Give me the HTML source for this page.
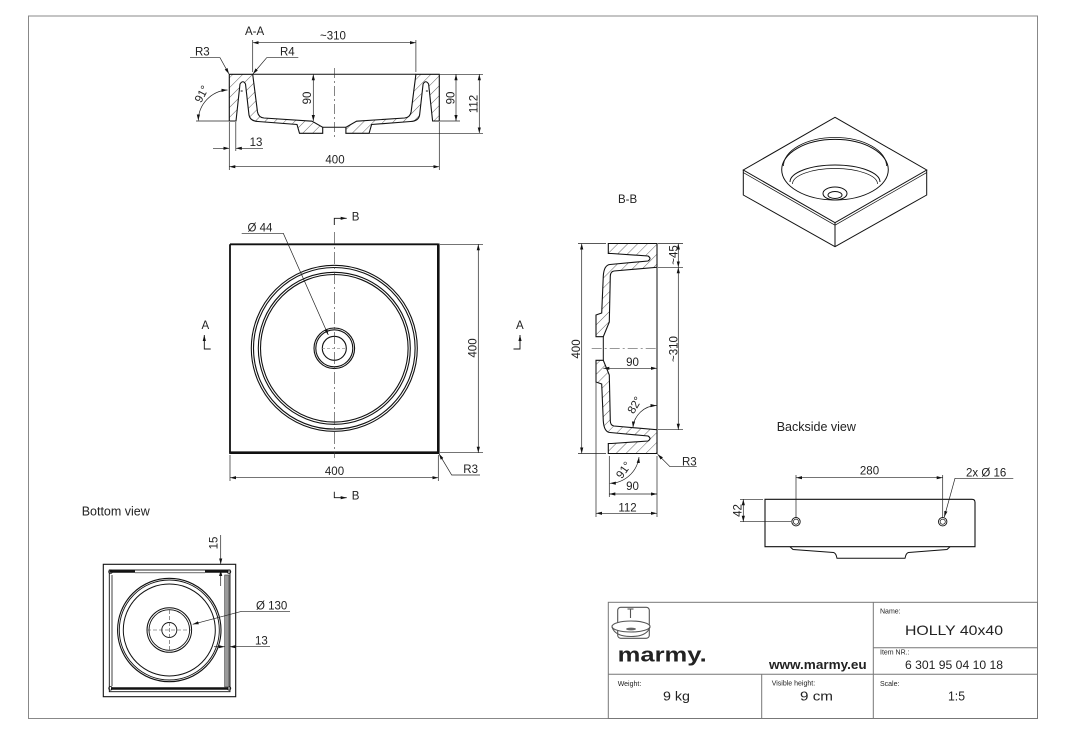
<!DOCTYPE html>
<html><head><meta charset="utf-8"><style>
html,body{margin:0;padding:0;background:#fff;}
svg{display:block;}
text{font-family:"Liberation Sans",sans-serif;fill:#222;}
</style></head><body>
<svg width="1073" height="744" viewBox="0 0 1073 744" xmlns="http://www.w3.org/2000/svg">
<defs>
<marker id="a" markerUnits="userSpaceOnUse" markerWidth="7" markerHeight="4" refX="6" refY="1.6" orient="auto-start-reverse"><path d="M0,0 L6,1.6 L0,3.2 z" fill="#111"/></marker>
<pattern id="h" patternUnits="userSpaceOnUse" width="7" height="7" patternTransform="rotate(45)"><line x1="0" y1="0" x2="0" y2="7" stroke="#222" stroke-width="0.7"/></pattern>
</defs>
<rect x="0" y="0" width="1073" height="744" fill="#fff"/>
<rect x="28.5" y="16" width="1009" height="702.5" fill="none" stroke="#888" stroke-width="1"/>

<!-- ========== A-A section ========== -->
<g stroke="#111" stroke-width="1.1" fill="url(#h)">
<path d="M229.3,74.3 L252.7,74.3 L257.5,112 Q258.5,117.5 264,118 L312,121.2 L322.7,127.3 L322.7,133.3 L299.5,133.3 L297,124.5 L258,121.5 Q250,121 249,115 L245.5,84 Q243,79.5 240,84 L236,121 L229.3,121 Z"/>
<path d="M439.3,74.3 L415.9,74.3 L411.1,112 Q410.1,117.5 404.6,118 L356.6,121.2 L345.9,127.3 L345.9,133.3 L369.1,133.3 L371.6,124.5 L410.6,121.5 Q418.6,121 419.6,115 L423.1,84 Q425.6,79.5 428.6,84 L432.6,121 L439.3,121 Z"/>
</g>
<g stroke="#111" stroke-width="1" fill="none">
<line x1="252.7" y1="74.3" x2="415.9" y2="74.3"/>
<line x1="322.7" y1="127.3" x2="345.9" y2="127.3"/>
<line x1="240.7" y1="91" x2="242.7" y2="91"/>
<line x1="425.9" y1="91" x2="427.9" y2="91"/>
</g>
<line x1="334.3" y1="68" x2="334.3" y2="139" stroke="#333" stroke-width="0.6" stroke-dasharray="10 3 2 3"/>
<g stroke="#222" stroke-width="0.7" fill="none">
<line x1="252.7" y1="40" x2="252.7" y2="72"/>
<line x1="415.9" y1="40" x2="415.9" y2="72"/>
<line x1="252.7" y1="42.7" x2="415.9" y2="42.7" marker-start="url(#a)" marker-end="url(#a)"/>
<polyline points="190,57.7 220,57.7 229,74" marker-end="url(#a)"/>
<polyline points="298.3,57.7 266.7,57.7 252.9,74" marker-end="url(#a)"/>
<path d="M227.5,90 A31,31 0 0 0 198.3,120.5" marker-start="url(#a)" marker-end="url(#a)"/>
<line x1="196" y1="121" x2="229" y2="121"/>
<line x1="229.3" y1="122" x2="229.3" y2="170"/>
<line x1="235.8" y1="122" x2="235.8" y2="151"/>
<line x1="213" y1="148.3" x2="229.3" y2="148.3" marker-end="url(#a)"/>
<line x1="263" y1="148.3" x2="235.8" y2="148.3" marker-end="url(#a)"/>
<line x1="439.3" y1="122" x2="439.3" y2="170"/>
<line x1="229.3" y1="166.7" x2="439.3" y2="166.7" marker-start="url(#a)" marker-end="url(#a)"/>
<line x1="440" y1="74.3" x2="483" y2="74.3"/>
<line x1="440" y1="121" x2="460" y2="121"/>
<line x1="369" y1="133.3" x2="483" y2="133.3"/>
<line x1="456" y1="74.3" x2="456" y2="121" marker-start="url(#a)" marker-end="url(#a)"/>
<line x1="479.3" y1="74.3" x2="479.3" y2="133.3" marker-start="url(#a)" marker-end="url(#a)"/>
<line x1="313.3" y1="74.3" x2="313.3" y2="121" marker-start="url(#a)" marker-end="url(#a)"/>
</g>
<g font-size="11.5">
<text x="245" y="35">A-A</text>
<text x="333" y="39.5" text-anchor="middle">~310</text>
<text x="195" y="55.5">R3</text>
<text x="280" y="55.5">R4</text>
<text x="256" y="146" text-anchor="middle">13</text>
<text x="335" y="163.5" text-anchor="middle">400</text>
<text transform="translate(201.5,94) rotate(-62)" text-anchor="middle" y="4">91°</text>
<text transform="translate(307,98) rotate(-90)" text-anchor="middle" y="4">90</text>
<text transform="translate(450.5,98) rotate(-90)" text-anchor="middle" y="4">90</text>
<text transform="translate(473.5,104) rotate(-90)" text-anchor="middle" y="4">112</text>
</g>

<!-- ========== Plan view ========== -->
<g stroke="#111" fill="none">
<line x1="230" y1="244.3" x2="438.3" y2="244.3" stroke-width="1.8"/>
<line x1="230" y1="244.3" x2="230" y2="452.7" stroke-width="1.8"/>
<line x1="438.3" y1="243.5" x2="438.3" y2="453.5" stroke-width="2.6"/>
<line x1="229.2" y1="452.7" x2="439.5" y2="452.7" stroke-width="2.6"/>
</g>
<g fill="none" stroke="#111" stroke-width="1.1">
<circle cx="334.3" cy="348.3" r="83"/>
<circle cx="334.3" cy="348.3" r="80.8"/>
<circle cx="334.3" cy="348.3" r="76"/>
<circle cx="334.3" cy="348.3" r="73.8"/>
<circle cx="334.3" cy="348.3" r="20.3"/>
<circle cx="334.3" cy="348.3" r="18.5"/>
<circle cx="334.3" cy="348.3" r="12"/>
</g>
<line x1="334.3" y1="232" x2="334.3" y2="458" stroke="#333" stroke-width="0.6" stroke-dasharray="12 3 2 3"/>
<line x1="322" y1="348.3" x2="347" y2="348.3" stroke="#888" stroke-width="0.6" stroke-dasharray="3 2"/>
<g stroke="#111" stroke-width="0.9" fill="none">
<polyline points="334.3,225 334.3,218.3 346.7,218.3" marker-end="url(#a)"/>
<polyline points="334.3,491.7 334.3,497.7 346.7,497.7" marker-end="url(#a)"/>
<polyline points="210.7,349 204.3,349 204.3,335" marker-end="url(#a)"/>
<polyline points="513.5,349 520,349 520,335" marker-end="url(#a)"/>
</g>
<g stroke="#222" stroke-width="0.7" fill="none">
<polyline points="241.7,233.3 283.3,233.3 328.3,335" marker-end="url(#a)"/>
<line x1="230" y1="455" x2="230" y2="481"/>
<line x1="438.3" y1="455" x2="438.3" y2="481"/>
<line x1="230" y1="477.7" x2="438.3" y2="477.7" marker-start="url(#a)" marker-end="url(#a)"/>
<line x1="440" y1="244.3" x2="483" y2="244.3"/>
<line x1="440" y1="452.7" x2="483" y2="452.7"/>
<line x1="478.3" y1="244.3" x2="478.3" y2="452.7" marker-start="url(#a)" marker-end="url(#a)"/>
<polyline points="480,475 451.7,475 439,453.8" marker-end="url(#a)"/>
</g>
<g font-size="11.5">
<text x="247.5" y="231.5">Ø 44</text>
<text x="334.5" y="475" text-anchor="middle">400</text>
<text transform="translate(472.5,348) rotate(-90)" text-anchor="middle" y="4">400</text>
<text x="463.3" y="473">R3</text>
<text x="351.7" y="220.7">B</text>
<text x="351.7" y="499.5">B</text>
<text x="201.5" y="329">A</text>
<text x="516" y="329">A</text>
</g>

<!-- ========== B-B section ========== -->
<g stroke="#111" stroke-width="1.1" fill="url(#h)">
<path d="M608.3,243.5 L657,243.5 L657,267.3 L614,271 Q610.5,271.5 610.3,276 L609.3,322 L603.3,336.7 L596,336.7 L596,315 L601.7,313 L603.3,276 Q604,265 610,264.5 L648,261 Q652,258.5 648,256 L611.5,253.5 L608.3,253.5 Z"/>
<path d="M608.3,453.5 L657,453.5 L657,429.7 L614,426 Q610.5,425.5 610.3,421 L609.3,375 L603.3,360.3 L596,360.3 L596,382 L601.7,384 L603.3,421 Q604,432 610,432.5 L648,436 Q652,438.5 648,441 L611.5,443.5 L608.3,443.5 Z"/>
</g>
<g stroke="#111" stroke-width="1" fill="none">
<line x1="657" y1="243.5" x2="657" y2="453.5"/>
<line x1="603.3" y1="336.7" x2="603.3" y2="360.3"/>
</g>
<line x1="591.7" y1="348.5" x2="657" y2="348.5" stroke="#333" stroke-width="0.6" stroke-dasharray="10 3 2 3"/>
<g stroke="#222" stroke-width="0.7" fill="none">
<line x1="578" y1="243.5" x2="606" y2="243.5"/>
<line x1="578" y1="453.5" x2="606" y2="453.5"/>
<line x1="581.7" y1="243.5" x2="581.7" y2="453.5" marker-start="url(#a)" marker-end="url(#a)"/>
<line x1="658" y1="243.5" x2="683" y2="243.5"/>
<line x1="658" y1="267.3" x2="683" y2="267.3"/>
<line x1="658" y1="429.7" x2="683" y2="429.7"/>
<line x1="678.3" y1="243.5" x2="678.3" y2="267.3" marker-start="url(#a)" marker-end="url(#a)"/>
<line x1="678.3" y1="267.3" x2="678.3" y2="429.7" marker-start="url(#a)" marker-end="url(#a)"/>
<line x1="603.3" y1="368.3" x2="657" y2="368.3" marker-start="url(#a)" marker-end="url(#a)"/>
<path d="M633,427.5 A24,24 0 0 1 656.5,405.5" marker-start="url(#a)" marker-end="url(#a)"/>
<polyline points="696.7,466.7 670,466.7 657.6,454.3" marker-end="url(#a)"/>
<path d="M639,457 A30,30 0 0 1 609.8,483.3" marker-start="url(#a)" marker-end="url(#a)"/>
<line x1="609.3" y1="456" x2="609.3" y2="497"/>
<line x1="657" y1="456" x2="657" y2="517"/>
<line x1="596" y1="363" x2="596" y2="517"/>
<line x1="609.3" y1="494" x2="657" y2="494" marker-start="url(#a)" marker-end="url(#a)"/>
<line x1="596" y1="513.3" x2="657" y2="513.3" marker-start="url(#a)" marker-end="url(#a)"/>
</g>
<g font-size="11.5">
<text x="618" y="203">B-B</text>
<text transform="translate(576,349) rotate(-90)" text-anchor="middle" y="4">400</text>
<text transform="translate(673.5,255) rotate(-90)" text-anchor="middle" y="4">~45</text>
<text transform="translate(673.5,349) rotate(-90)" text-anchor="middle" y="4">~310</text>
<text x="632.5" y="366" text-anchor="middle">90</text>
<text transform="translate(634.5,405) rotate(-60)" text-anchor="middle" y="4">82°</text>
<text x="682" y="465.5">R3</text>
<text transform="translate(623.5,470) rotate(-55)" text-anchor="middle" y="4">91°</text>
<text x="632.5" y="490" text-anchor="middle">90</text>
<text x="627.5" y="511.5" text-anchor="middle">112</text>
</g>

<!-- ========== Isometric view ========== -->
<g stroke="#111" stroke-width="1" fill="none">
<polygon points="835,117.3 926.7,170 835,222.7 743.3,170"/>
<polyline points="743.3,170 743.3,195 835,246.7 926.7,195 926.7,170"/>
<line x1="835" y1="222.7" x2="835" y2="246.7"/>
<polyline points="743.3,172.6 835,225.2 926.7,172.6" stroke-width="0.7"/>
<ellipse cx="835" cy="169.7" rx="53.3" ry="30.3"/>
<path d="M783.5,166 A51.5,28.5 0 0 1 886.5,166" stroke-width="0.8"/>
<path d="M790,182 A45,17 0 0 1 880,182"/>
<path d="M792.5,184 A42.5,15.5 0 0 1 877.5,184" stroke-width="0.7"/>
<ellipse cx="835" cy="193.5" rx="12" ry="6.5"/>
<ellipse cx="835" cy="195" rx="7" ry="3.5"/>
</g>

<!-- ========== Backside view ========== -->
<text x="776.7" y="431" font-size="12.5">Backside view</text>
<g stroke="#111" stroke-width="1.1" fill="none">
<path d="M765,499.3 L972,499.3 Q975,499.3 975,502.3 L975,546.7 L765,546.7 Z"/>
<path d="M790,546.7 L793,549.5 L833.5,552.5 Q836,553 837,558.3 L905,558.3 Q906,553 908.5,552.5 L947,549.5 L950,546.7" stroke-width="1"/>
<circle cx="796" cy="521.7" r="4.2" stroke-width="0.9"/>
<circle cx="796" cy="521.7" r="2.6" stroke-width="0.7"/>
<circle cx="942.7" cy="521.7" r="4.2" stroke-width="0.9"/>
<circle cx="942.7" cy="521.7" r="2.6" stroke-width="0.7"/>
</g>
<g stroke="#222" stroke-width="0.7" fill="none">
<line x1="796" y1="475" x2="796" y2="517"/>
<line x1="942.7" y1="475" x2="942.7" y2="517"/>
<line x1="796" y1="477.7" x2="942.7" y2="477.7" marker-start="url(#a)" marker-end="url(#a)"/>
<polyline points="1013.3,478.3 955,478.3 944.3,517" marker-end="url(#a)"/>
<line x1="740" y1="499.3" x2="763" y2="499.3"/>
<line x1="740" y1="521.7" x2="791" y2="521.7"/>
<line x1="743.3" y1="499.3" x2="743.3" y2="521.7" marker-start="url(#a)" marker-end="url(#a)"/>
</g>
<g font-size="11.5">
<text x="869.5" y="474.5" text-anchor="middle">280</text>
<text x="966" y="476.5">2x Ø 16</text>
<text transform="translate(737.5,510.5) rotate(-90)" text-anchor="middle" y="4">42</text>
</g>

<!-- ========== Bottom view ========== -->
<text x="81.7" y="515.5" font-size="12.5">Bottom view</text>
<g stroke="#111" fill="none">
<rect x="103.3" y="564.3" width="132.4" height="132.4" stroke-width="1.1"/>
<rect x="109.3" y="570" width="120.7" height="121.7" stroke-width="0.9"/>
<line x1="110" y1="571.5" x2="135" y2="571.5" stroke-width="2.4"/>
<line x1="205" y1="571.5" x2="228.5" y2="571.5" stroke-width="2.4"/>
<line x1="111" y1="688.5" x2="228.5" y2="688.5" stroke-width="2.4"/>
<line x1="112" y1="575" x2="112" y2="686" stroke-width="0.8"/>
<line x1="135" y1="572.8" x2="205" y2="572.8" stroke-width="0.7"/>
<circle cx="110.5" cy="571.7" r="1.8" stroke-width="0.8"/>
<circle cx="229" cy="571.7" r="1.8" stroke-width="0.8"/>
<circle cx="110.5" cy="688.3" r="1.8" stroke-width="0.8"/>
<circle cx="229" cy="688.3" r="1.8" stroke-width="0.8"/>
<circle cx="169.3" cy="630" r="51.7" stroke-width="1.1"/>
<circle cx="169.3" cy="630" r="50" stroke-width="0.9"/>
<circle cx="169.3" cy="630" r="46" stroke-width="1"/>
<circle cx="169.3" cy="630" r="22.3" stroke-width="1"/>
<circle cx="169.3" cy="630" r="20.3" stroke-width="0.9"/>
<circle cx="169.3" cy="630" r="7.5" stroke-width="0.9"/>
</g>
<rect x="224.7" y="575" width="4.3" height="112" fill="#9a9a9a" stroke="#333" stroke-width="0.6"/>
<g stroke="#444" stroke-width="0.6" stroke-dasharray="4 2" fill="none">
<line x1="147" y1="630" x2="192" y2="630"/>
<line x1="169.3" y1="610" x2="169.3" y2="650"/>
</g>
<g stroke="#222" stroke-width="0.7" fill="none">
<line x1="220.7" y1="535" x2="220.7" y2="564.3" marker-end="url(#a)"/>
<line x1="220.7" y1="586" x2="220.7" y2="570" marker-end="url(#a)"/>
<line x1="208" y1="564.3" x2="236" y2="564.3"/>
<polyline points="290,611.3 241.7,611.3 192.7,624.3" marker-end="url(#a)"/>
<line x1="270" y1="646.7" x2="229.5" y2="646.7" marker-end="url(#a)"/>
<line x1="214" y1="646.7" x2="224.7" y2="646.7" marker-end="url(#a)"/>
</g>
<g font-size="11.5">
<text transform="translate(213.5,543) rotate(-90)" text-anchor="middle" y="4">15</text>
<text x="256" y="609.5">Ø 130</text>
<text x="255" y="644.5">13</text>
</g>

<!-- ========== Title block ========== -->
<g stroke="#777" stroke-width="1" fill="none">
<rect x="608.3" y="602.3" width="429.2" height="116.2"/>
<line x1="873.3" y1="602.3" x2="873.3" y2="718.5"/>
<line x1="873.3" y1="647.7" x2="1037.5" y2="647.7"/>
<line x1="608.3" y1="674.3" x2="1037.5" y2="674.3"/>
<line x1="761.7" y1="674.3" x2="761.7" y2="718.5"/>
</g>
<g stroke="#555" stroke-width="1.1" fill="none">
<rect x="617.7" y="607.3" width="31.6" height="31" rx="3"/>
<line x1="630.5" y1="609" x2="630.5" y2="618"/>
<line x1="627.5" y1="609" x2="633.5" y2="609"/>
<ellipse cx="631" cy="626.5" rx="19" ry="5.5" fill="#fff"/>
<path d="M612,627 Q615,636.5 631,636.5 Q647,636.5 650,627"/>
</g>
<ellipse cx="631" cy="629" rx="5" ry="1.4" fill="#666"/>
<text x="617.7" y="661.7" font-size="20" font-weight="bold" textLength="89" lengthAdjust="spacingAndGlyphs" style="fill:#222">marmy.</text>
<text x="769" y="669" font-size="12.5" font-weight="bold" textLength="97.7" lengthAdjust="spacingAndGlyphs">www.marmy.eu</text>
<g font-size="7" style="fill:#333">
<text x="880" y="613.5">Name:</text>
<text x="880" y="654.3">Item NR.:</text>
<text x="617.7" y="685.8">Weight:</text>
<text x="771.7" y="685.3">Visible height:</text>
<text x="880" y="685.8">Scale:</text>
</g>
<text x="905" y="635.2" font-size="14" textLength="98" lengthAdjust="spacingAndGlyphs">HOLLY 40x40</text>
<text x="905" y="669" font-size="12" textLength="98" lengthAdjust="spacingAndGlyphs">6 301 95 04 10 18</text>
<text x="663" y="700.3" font-size="12.5" textLength="27" lengthAdjust="spacingAndGlyphs">9 kg</text>
<text x="800" y="700.3" font-size="12.5" textLength="33" lengthAdjust="spacingAndGlyphs">9 cm</text>
<text x="948" y="700.3" font-size="12.5" textLength="17" lengthAdjust="spacingAndGlyphs">1:5</text>
</svg>
</body></html>
